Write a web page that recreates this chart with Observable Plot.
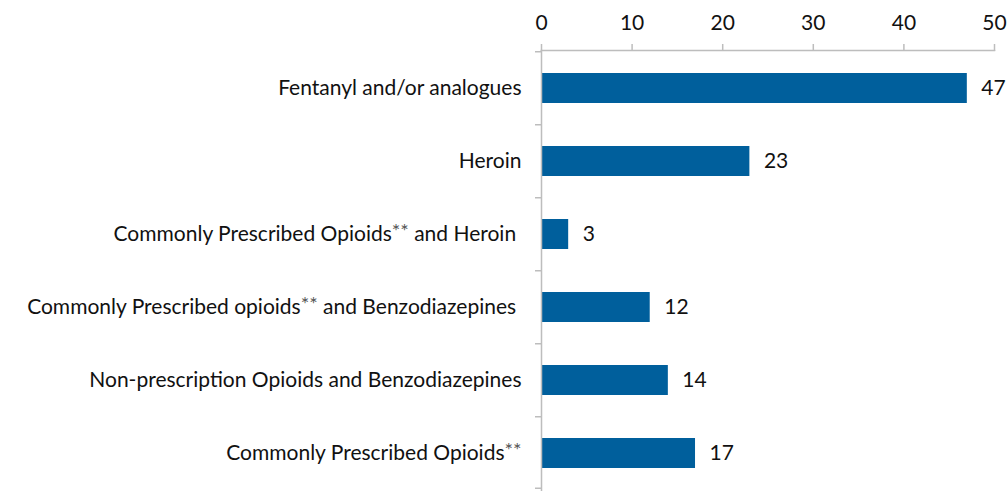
<!DOCTYPE html>
<html><head><meta charset="utf-8">
<script src="https://cdn.jsdelivr.net/npm/d3@7"></script>
<script src="https://cdn.jsdelivr.net/npm/@observablehq/plot@0.6"></script>
<style>body{margin:0;background:#fff}svg{display:block}</style>
</head><body><div id="chart"></div>
<script>
const categories = [
  "Fentanyl and/or analogues",
  "Heroin",
  "Commonly Prescribed Opioids** and Heroin\u00a0",
  "Commonly Prescribed opioids** and Benzodiazepines\u00a0",
  "Non-prescription Opioids and Benzodiazepines",
  "Commonly Prescribed Opioids**"
];
const values = [47, 23, 3, 12, 14, 17];
const xTicks = [0, 10, 20, 30, 40, 50];

const data = categories.map((c, i) => ({cat: c, value: values[i]}));
const W = 1008, H = 491, mTop = 50, mLeft = 541;
const step = (H - mTop) / categories.length;
const axisColor = "#bdbdbd";
const font = "Lato, 'Open Sans', sans-serif";
const fs = 21;

const chart = Plot.plot({
  width: W, height: H,
  marginTop: mTop, marginLeft: mLeft, marginRight: 14, marginBottom: 0,
  style: {fontFamily: font, fontSize: fs + "px", color: "#111", background: "#fff"},
  x: {domain: [0, 50], axis: null},
  y: {domain: categories, paddingInner: 0.59, paddingOuter: 0.295, axis: null},
  marks: [
    Plot.barX(data, {x: "value", y: "cat", fill: "#005f9c"}),
    Plot.text(data, {x: "value", y: "cat", text: d => String(d.value), dx: 14, textAnchor: "start", fill: "#111", fontSize: fs}),
    Plot.frame({anchor: "top", stroke: axisColor, strokeWidth: 1.5}),
    Plot.frame({anchor: "left", stroke: axisColor, strokeWidth: 1.5}),
    Plot.axisX({anchor: "top", ticks: xTicks, tickSize: 7, tickPadding: 14, stroke: axisColor, strokeWidth: 1.5, fill: "#111", fontSize: fs, label: null}),
    Plot.axisY({anchor: "left", tickSize: 0, tickPadding: 20, fill: "#111", fontSize: fs, label: null}),
    Plot.axisY({anchor: "left", text: null, tickSize: 6, dy: -step / 2, stroke: axisColor, strokeWidth: 1.5, label: null}),
    Plot.axisY({anchor: "left", ticks: [categories[categories.length - 1]], text: null, tickSize: 6, dy: step / 2 - 2, stroke: axisColor, strokeWidth: 1.5, label: null})
  ]
});
document.getElementById("chart").appendChild(chart);

// render "**" as raised asterisks
d3.select(chart).selectAll("text").each(function() {
  const t = this.textContent;
  if (!t.includes("**")) return;
  const parts = t.split("**");
  const el = d3.select(this);
  el.text(null);
  parts.forEach((p, i) => {
    if (i > 0) el.append("tspan").attr("font-size", "20px").attr("fill", "#555").attr("dy", "-0.15em").text("**");
    const s = el.append("tspan").text(p);
    if (i > 0) s.attr("dy", "0.15em");
  });
});
</script>
</body></html>
